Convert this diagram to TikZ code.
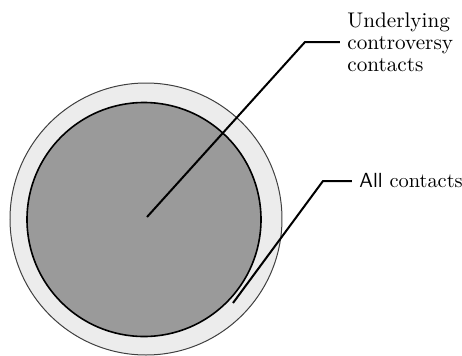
\documentclass[tikz,border=0pt]{standalone}
\usepackage{xcolor}
\usepackage{tikz}
\usetikzlibrary{positioning}

\definecolor{ringgray}{HTML}{ECECEC}
\definecolor{coregray}{HTML}{9A9A9A}

\begin{document}
\begin{tikzpicture}[
                x=0.5pt, y=-0.5pt,
                ring/.style={draw=black!75, line width=0.5pt, circle, fill=ringgray, inner sep=0pt},
                core/.style={draw=black, line width=0.8pt, circle, fill=coregray, inner sep=0pt},
                leader/.style={draw=black, line width=1pt},
                label/.style={inner sep=3.5pt, align=left, font=\fontsize{10.6}{11}\selectfont}
                ]
                \useasboundingbox (0,0) rectangle (462,355);

                % 원 배치
                \node[ring, minimum size=136pt] (all) at (146,219) {};
                \node[core, minimum size=117pt] (core) at (144,219.5) {};

                % 지시선 좌표
                \coordinate (coreDot) at (147,217);
                \coordinate (coreBend) at (305,42);
                \coordinate (allDot) at (233,303);
                \coordinate (allBend) at (323,181);

                % 라벨
                \node[label, anchor=west] (coreText) at (340,42) {Underlying\\controversy\\contacts};
                \node[label, anchor=west, font=\fontsize{10.2}{10.2}\selectfont] (allText) at (352,181) {\textsf{All} contacts};

                % 지시선 연결
                \draw[leader] (coreDot) -- (coreBend) -- (coreText.west);
                \draw[leader] (allDot) -- (allBend) -- (allText.west);
            \end{tikzpicture}
\end{document}
